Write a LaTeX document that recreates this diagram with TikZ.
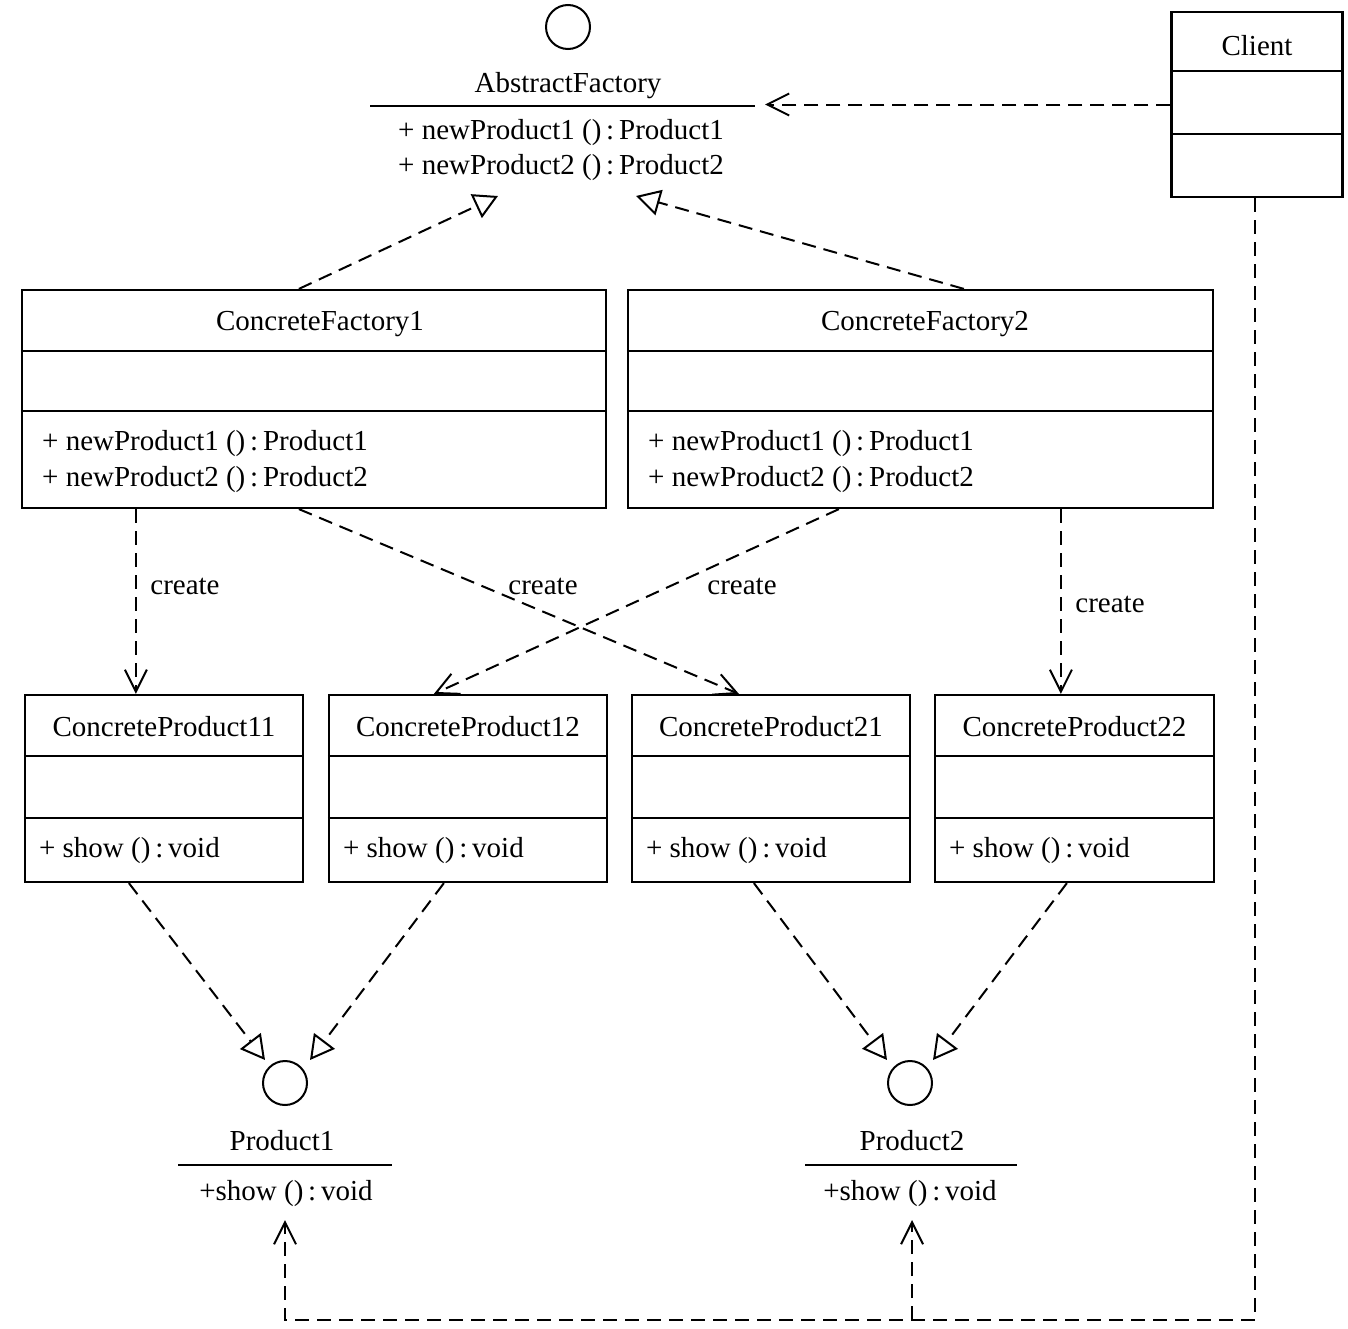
\documentclass[tikz,border=0pt]{standalone}
\usepackage{fontspec}
\setmainfont{Liberation Serif}
\usetikzlibrary{arrows.meta,calc}
\begin{document}
\begin{tikzpicture}[x=1pt,y=-1pt,
  every node/.style={font=\fontsize{29}{34}\selectfont, inner sep=0pt},
  box/.style={draw, line width=2.2pt, rectangle, inner sep=0pt},
  ring/.style={draw, circle, line width=2pt, minimum size=44pt, inner sep=0pt},
  divl/.style={line width=2.2pt},
  dl/.style={line width=2pt, dash pattern=on 14pt off 8pt},
  barb/.style={-{Straight Barb[length=22pt,width=22pt,line width=2pt]}},
  tri/.style={-{Triangle[open,length=24pt,width=26pt,line width=2pt,fill=white]}},
  txt/.style={anchor=base},
  mtxt/.style={anchor=base west}]
\useasboundingbox (0,0) rectangle (1348,1328);

% ---------- AbstractFactory (interface)
\node[ring] (afc) at (568,27) {};
\node[txt] (af) at (568,92) {AbstractFactory};
\draw[divl] (370,106) -- (755,106);
\node[mtxt] (afm1) at (398,139) {+ newProduct1 ()\,:\,Product1};
\node[mtxt] (afm2) at (398,174) {+ newProduct2 ()\,:\,Product2};
\coordinate (afend) at (765,104.5);
\coordinate (tri1) at (498,196);
\coordinate (tri2) at (636,196);

% ---------- Client
\node[box, minimum width=171pt, minimum height=185pt] (client) at (1257,104.5) {};
\draw[divl] ($(client.north west)+(0,60)$) -- ($(client.north east)+(0,60)$);
\draw[divl] ($(client.north west)+(0,123)$) -- ($(client.north east)+(0,123)$);
\node[txt] at (1257,55) {Client};

% ---------- Concrete factories
\node[box, minimum width=584pt, minimum height=218pt] (cf1) at (314,399) {};
\draw[divl] ($(cf1.north west)+(0,62)$) -- ($(cf1.north east)+(0,62)$);
\draw[divl] ($(cf1.north west)+(0,122)$) -- ($(cf1.north east)+(0,122)$);
\node[txt] at (320,330) {ConcreteFactory1};
\node[mtxt] at (42,450) {+ newProduct1 ()\,:\,Product1};
\node[mtxt] at (42,486) {+ newProduct2 ()\,:\,Product2};

\node[box, minimum width=585pt, minimum height=218pt] (cf2) at (920.5,399) {};
\draw[divl] ($(cf2.north west)+(0,62)$) -- ($(cf2.north east)+(0,62)$);
\draw[divl] ($(cf2.north west)+(0,122)$) -- ($(cf2.north east)+(0,122)$);
\node[txt] at (925,330) {ConcreteFactory2};
\node[mtxt] at (648,450) {+ newProduct1 ()\,:\,Product1};
\node[mtxt] at (648,486) {+ newProduct2 ()\,:\,Product2};

% ---------- Concrete products
\foreach \nm/\cx/\w/\ttl in {cp11/164/278/ConcreteProduct11, cp12/468/278/ConcreteProduct12, cp21/771/278/ConcreteProduct21, cp22/1074.5/279/ConcreteProduct22}{
  \node[box, minimum width=\w pt, minimum height=187pt] (\nm) at (\cx,788.5) {};
  \draw[divl] ($(\nm.north west)+(0,62)$) -- ($(\nm.north east)+(0,62)$);
  \draw[divl] ($(\nm.north west)+(0,124)$) -- ($(\nm.north east)+(0,124)$);
  \node[txt] at (\cx,736) {\ttl};
  \node[mtxt] at ($(\nm.north west)+(15,164)$) {+ show ()\,:\,void};
}

% ---------- Products (interfaces)
\node[ring] (p1c) at (285,1083) {};
\node[txt] (p1) at (282,1150) {Product1};
\draw[divl] (178,1165) -- (392,1165);
\node[txt] (p1m) at (286,1200) {+show ()\,:\,void};
\node[ring] (p2c) at (910,1083) {};
\node[txt] (p2) at (912,1150) {Product2};
\draw[divl] (805,1165) -- (1017,1165);
\node[txt] (p2m) at (910,1200) {+show ()\,:\,void};
\coordinate (p1in) at (285,1220);
\coordinate (p2in) at (912,1220);
\coordinate (p1t1) at (265,1060);
\coordinate (p1t2) at (310,1060);
\coordinate (p2t1) at (887,1060);
\coordinate (p2t2) at (933,1060);

% ---------- Realisations of AbstractFactory
\draw[dl, tri] ($(cf1.north west)+(278,0)$) -- (tri1);
\draw[dl, tri] ($(cf2.north west)+(337,0)$) -- (tri2);

% ---------- Client uses AbstractFactory
\draw[dl, barb] (client.west) -- (afend);

% ---------- create dependencies
\draw[dl, barb] ($(cf1.south west)+(115,0)$) -- ($(cp11.north west)+(112,0)$);
\draw[dl, barb] ($(cf1.south west)+(278,0)$) -- ($(cp21.north west)+(108,0)$);
\draw[dl, barb] ($(cf2.south west)+(212,0)$) -- ($(cp12.north west)+(106,0)$);
\draw[dl, barb] ($(cf2.south west)+(434,0)$) -- ($(cp22.north west)+(127,0)$);
\node[txt] at (185,594) {create};
\node[txt] at (543,594) {create};
\node[txt] at (742,594) {create};
\node[txt] at (1110,612) {create};

% ---------- Realisations of products
\draw[dl, tri] ($(cp11.south west)+(105,0)$) -- (p1t1);
\draw[dl, tri] ($(cp12.south west)+(116,0)$) -- (p1t2);
\draw[dl, tri] ($(cp21.south west)+(123,0)$) -- (p2t1);
\draw[dl, tri] ($(cp22.south west)+(133,0)$) -- (p2t2);

% ---------- Client uses products
\coordinate (bend) at (1255,1320);
\coordinate (join) at (912,1320);
\draw[dl, barb] (client.south -| bend) -- (bend) -| (p1in);
\draw[dl, barb] (join) -- (p2in);
\end{tikzpicture}
\end{document}
